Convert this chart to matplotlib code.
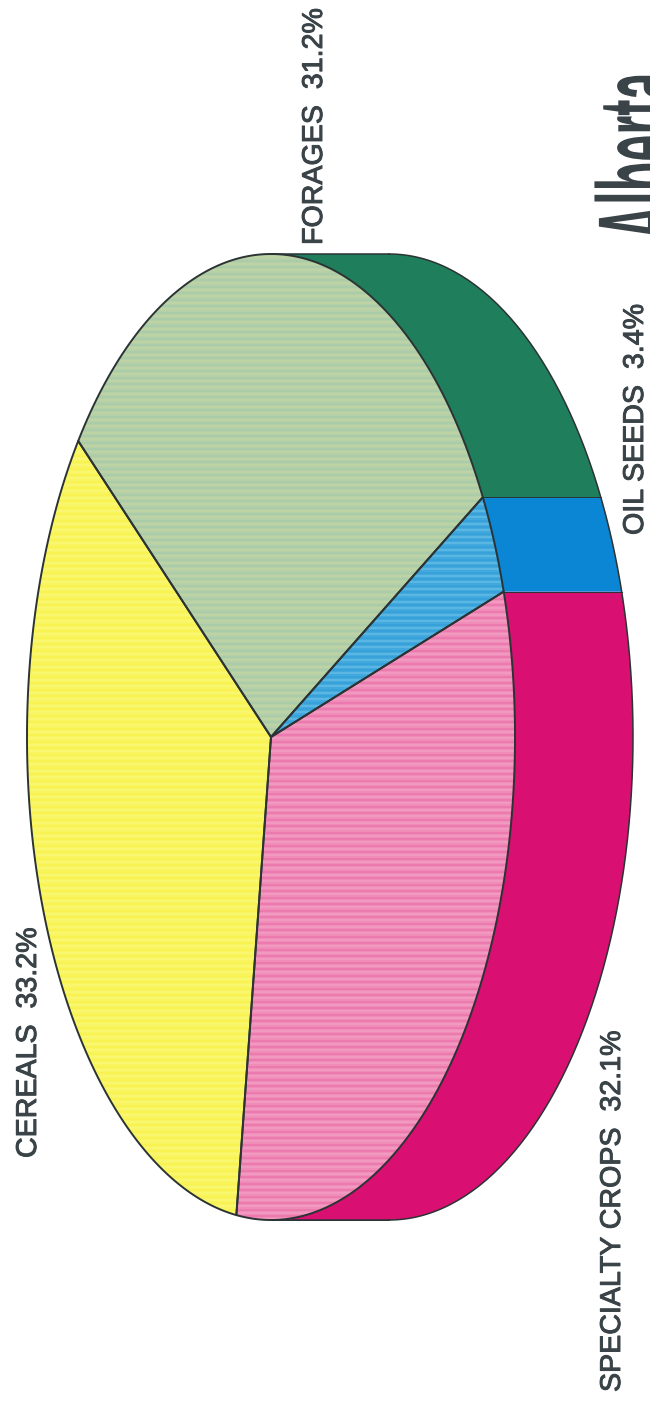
import numpy as np
import matplotlib
matplotlib.use('Agg')
import matplotlib.pyplot as plt
from matplotlib.patches import Polygon
from matplotlib.patheffects import AbstractPathEffect, withStroke
from matplotlib.transforms import Affine2D

plt.rcParams['font.family'] = ['Liberation Sans', 'DejaVu Sans']

# slices, going round from the cereals / forages edge
crops = ['CEREALS', 'SPECIALTY CROPS', 'OIL SEEDS', 'FORAGES']
shares = [33.2, 32.1, 3.4, 31.2]
top_colors = ['#f9f560', '#f08cb8', '#42a9de', '#b5cfa8']
dark_stripes = ['#f8f040', '#ea5fa0', '#2a96d6', '#9cc8ac']
light_stripes = ['#fbf98c', '#f6aed0', '#86cdea', '#cfdc9c']
side_colors = ['#f7f03a', '#d90f72', '#0a86d4', '#1f7f5c']

# pie geometry in image pixels
CX, CY = 271, 737
RX, RY = 244, 483
DEPTH = 118
START = 142.2
INK = '#2b3335'
TEXT = '#3a4347'


class StretchAcross(AbstractPathEffect):
    # the logo is far taller than a plain font, stretch it across the baseline
    def __init__(self, x0, factor):
        super().__init__()
        self.x0 = x0
        self.factor = factor

    def draw_path(self, renderer, gc, tpath, affine, rgbFace=None):
        squash = Affine2D().translate(-self.x0, 0).scale(self.factor, 1).translate(self.x0, 0)
        renderer.draw_path(gc, tpath, affine + squash, rgbFace)


def rim(a, b, shift=0):
    t = np.radians(np.linspace(a, b, 200))
    return np.column_stack([CX + RX * np.cos(t) + shift, CY - RY * np.sin(t)])


fig = plt.figure(figsize=(6.5, 14.06), dpi=100)
ax = fig.add_axes([0, 0, 1, 1])
ax.set_xlim(0, 650)
ax.set_ylim(1406, 0)
ax.axis('off')

edges = START + np.concatenate([[0], np.cumsum(shares)]) / sum(shares) * 360

# side wall first, only the part facing the viewer
for i in range(len(crops)):
    for wrap in (0, -360):
        lo = max(edges[i] + wrap, -90)
        hi = min(edges[i + 1] + wrap, 90)
        if lo >= hi:
            continue
        pts = np.vstack([rim(lo, hi, DEPTH), rim(hi, lo)])
        ax.add_patch(Polygon(pts, closed=True, fc=side_colors[i], ec='none', zorder=1))
        # seam between side panels
        ax.plot(*np.column_stack([rim(lo, lo)[0], rim(lo, lo, DEPTH)[0]]), color=INK, lw=0.7, zorder=2)

ax.plot(*rim(-90, 90, DEPTH).T, color=INK, lw=1.1, zorder=2)
ax.plot([CX, CX + DEPTH], [CY - RY, CY - RY], color=INK, lw=1.1, zorder=2)
ax.plot([CX, CX + DEPTH], [CY + RY, CY + RY], color=INK, lw=1.1, zorder=2)

# top face with the scanned stripe texture
for i in range(len(crops)):
    pts = np.vstack([[CX, CY], rim(edges[i], edges[i + 1])])
    face = Polygon(pts, closed=True, fc=top_colors[i], ec='none', zorder=3)
    ax.add_patch(face)
    for offset, col in ((0, dark_stripes[i]), (3.2, light_stripes[i])):
        rows = np.arange(CY - RY + offset, CY + RY, 6.5)
        lines = ax.hlines(rows, CX - RX, CX + RX, color=col, lw=1.1, alpha=0.5, zorder=4)
        lines.set_clip_path(face)
    ax.add_patch(Polygon(pts, closed=True, fc='none', ec=INK, lw=1.4, joinstyle='round', zorder=5))

# labels read bottom to top
label_kw = dict(rotation=90, ha='left', va='baseline', rotation_mode='anchor',
                fontsize=20.6, color=TEXT, zorder=6,
                path_effects=[withStroke(linewidth=0.7, foreground=TEXT)])
ax.text(36, 1158, f'{crops[0]}  {shares[0]}%', **label_kw)
ax.text(620, 1392, f'{crops[1]}  {shares[1]}%', **label_kw)
ax.text(643, 535, f'{crops[2]}  {shares[2]}%', **label_kw)
ax.text(322, 245, f'{crops[3]}  {shares[3]}%', **label_kw)

ax.text(630, 240, 'Alberta', rotation=90, ha='left', va='baseline', rotation_mode='anchor',
        fontsize=35, fontweight='bold', color=TEXT, zorder=6,
        path_effects=[StretchAcross(595, 2.5)])

fig.savefig('out.png', dpi=100, facecolor='white')
